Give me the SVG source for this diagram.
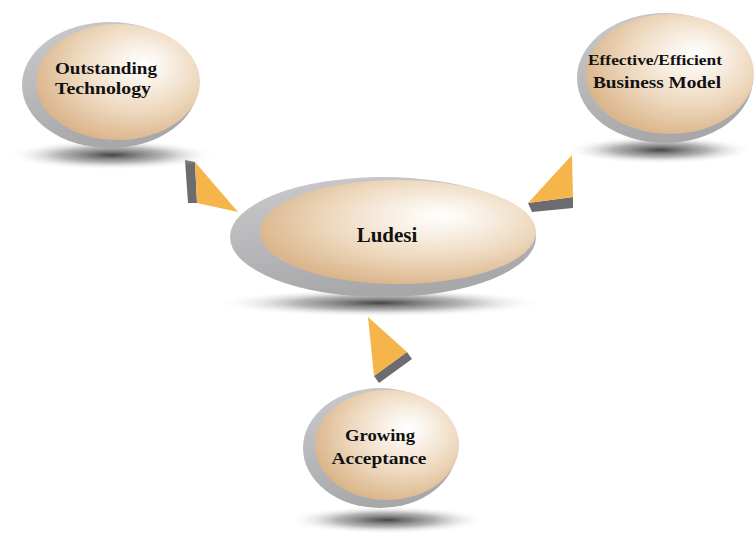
<svg xmlns="http://www.w3.org/2000/svg" width="755" height="538" viewBox="0 0 755 538">
<style>
.ring{fill:url(#gray)}
.core{fill:url(#tan)}
.shadow{fill:url(#shd)}
.arrow{fill:#f6b54a}
.arrowsh{fill:#6c6c70}
.lbl{font-family:"Liberation Serif","Times New Roman",serif;font-weight:bold;fill:#111;text-anchor:middle}
</style>
<defs>
<radialGradient id="tan" cx="0.6" cy="0.4" r="0.62" fx="0.66" fy="0.34">
<stop offset="0" stop-color="#ffffff"/>
<stop offset="0.25" stop-color="#f9f1e7"/>
<stop offset="0.6" stop-color="#eed9bf"/>
<stop offset="1" stop-color="#dbb68c"/>
</radialGradient>
<linearGradient id="gray" x1="0" y1="0" x2="0.3" y2="1">
<stop offset="0" stop-color="#cbcbcd"/>
<stop offset="1" stop-color="#a8a8ab"/>
</linearGradient>
<radialGradient id="shd" cx="0.5" cy="0.5" r="0.5">
<stop offset="0" stop-color="#3a3a3a" stop-opacity="0.95"/>
<stop offset="0.5" stop-color="#777" stop-opacity="0.55"/>
<stop offset="1" stop-color="#ffffff" stop-opacity="0"/>
</radialGradient>
</defs>
<rect width="755" height="538" fill="#ffffff"/>

<g id="connectors">
<polygon class="arrowsh" points="185,160 195,162 197,203 188,203"/>
<polygon class="arrow" points="195,162 238,212 197,203"/>
<polygon class="arrowsh" points="528,203 573,197 573,208 532,212"/>
<polygon class="arrow" points="572,155 573,197 528,203"/>
<polygon class="arrowsh" points="407,352 412,359 379,383 374,376"/>
<polygon class="arrow" points="368,317 407,352 374,376"/>
</g>

<g id="node-technology">
<ellipse class="shadow" cx="112" cy="155" rx="105" ry="15"/>
<ellipse class="ring" cx="110" cy="85" rx="88" ry="63"/>
<ellipse class="core" cx="118" cy="82" rx="82" ry="58"/>
<text class="lbl" x="106" y="74" font-size="16" textLength="102" lengthAdjust="spacingAndGlyphs">Outstanding</text>
<text class="lbl" x="103" y="94" font-size="16" textLength="96" lengthAdjust="spacingAndGlyphs">Technology</text>
</g>

<g id="node-business">
<ellipse class="shadow" cx="660" cy="150" rx="95" ry="14"/>
<ellipse class="ring" cx="665" cy="78" rx="88" ry="65"/>
<ellipse class="core" cx="670" cy="74" rx="84" ry="60"/>
<text class="lbl" x="655" y="65" font-size="15" textLength="134" lengthAdjust="spacingAndGlyphs">Effective/Efficient</text>
<text class="lbl" x="657" y="88" font-size="16" textLength="128" lengthAdjust="spacingAndGlyphs">Business Model</text>
</g>

<g id="node-ludesi">
<ellipse class="shadow" cx="380" cy="303" rx="165" ry="14"/>
<ellipse class="ring" cx="383" cy="237" rx="153" ry="60"/>
<ellipse class="core" cx="398" cy="232" rx="138" ry="52"/>
<text class="lbl" x="387" y="242" font-size="21">Ludesi</text>
</g>

<g id="node-acceptance">
<ellipse class="shadow" cx="387" cy="520" rx="100" ry="14"/>
<ellipse class="ring" cx="380" cy="448" rx="77" ry="60"/>
<ellipse class="core" cx="387" cy="445" rx="72" ry="55"/>
<text class="lbl" x="380" y="441" font-size="17" textLength="70" lengthAdjust="spacingAndGlyphs">Growing</text>
<text class="lbl" x="379" y="464" font-size="17" textLength="95" lengthAdjust="spacingAndGlyphs">Acceptance</text>
</g>
</svg>
